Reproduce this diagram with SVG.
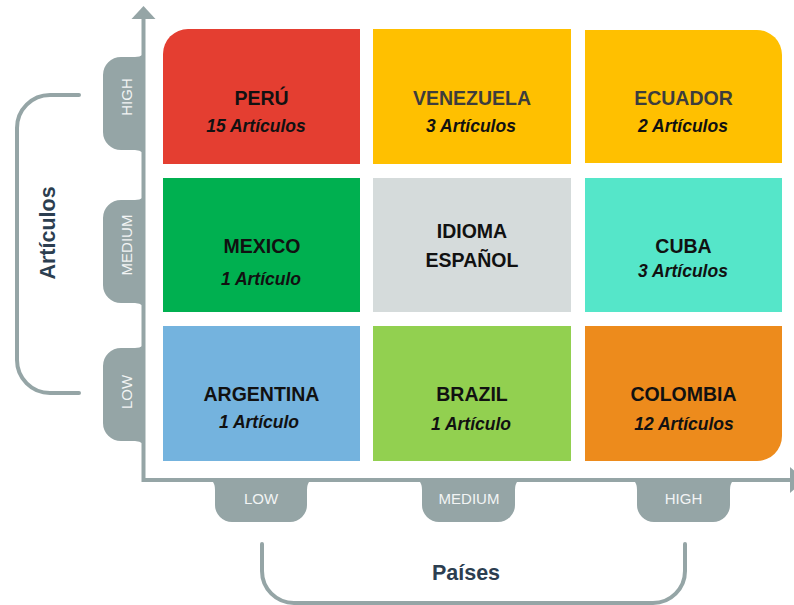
<svg xmlns="http://www.w3.org/2000/svg" width="794" height="605" viewBox="0 0 794 605">
<style>
.t{font-family:"Liberation Sans",Arial,sans-serif;font-weight:bold;font-size:19.5px;text-anchor:middle;fill:#111}
.g{fill:#3d3d3d}
.s{font-family:"Liberation Sans",Arial,sans-serif;font-weight:bold;font-style:italic;font-size:17.5px;text-anchor:middle;fill:#111}
.ax{fill:#95A5A6}
.al{font-family:"Liberation Sans",Arial,sans-serif;font-size:15px;text-anchor:middle;fill:#F2F4F4}
.br{fill:none;stroke:#95A5A6;stroke-width:4;stroke-linecap:round}
.bt{font-family:"Liberation Sans",Arial,sans-serif;font-weight:bold;font-size:21.5px;text-anchor:middle;fill:#2C3E50}
</style>
<rect width="794" height="605" fill="#fff"/>
<g id="axes">
<path d="M143.5 14 L143.5 480 L792 480" fill="none" stroke="#95A5A6" stroke-width="4"/>
<polygon class="ax" points="131.5,19 143.5,6 155.5,19"/>
<polygon class="ax" points="790,467 805,480 790,493"/>
<path class="ax" d="M145 47 Q145 57 135 57 L121 57 A18 18 0 0 0 103 75 L103 132 A18 18 0 0 0 121 150 L135 150 Q145 150 145 160 Z"/>
<path class="ax" d="M145 190 Q145 200 135 200 L121 200 A18 18 0 0 0 103 218 L103 285 A18 18 0 0 0 121 303 L135 303 Q145 303 145 313 Z"/>
<path class="ax" d="M145 338 Q145 348 135 348 L121 348 A18 18 0 0 0 103 366 L103 423 A18 18 0 0 0 121 441 L135 441 Q145 441 145 451 Z"/>
<path class="ax" d="M204 478 Q215 478 215 490 L215 505 A17 17 0 0 0 232 522 L290 522 A17 17 0 0 0 307 505 L307 490 Q307 478 318 478 Z"/>
<path class="ax" d="M411 478 Q422 478 422 490 L422 505 A17 17 0 0 0 439 522 L498 522 A17 17 0 0 0 515 505 L515 490 Q515 478 526 478 Z"/>
<path class="ax" d="M626 478 Q637 478 637 490 L637 505 A17 17 0 0 0 654 522 L713 522 A17 17 0 0 0 730 505 L730 490 Q730 478 741 478 Z"/>
<text class="al" transform="translate(132,97) rotate(-90)">HIGH</text>
<text class="al" transform="translate(132,245) rotate(-90)">MEDIUM</text>
<text class="al" transform="translate(132,392) rotate(-90)">LOW</text>
<text class="al" x="261" y="504">LOW</text>
<text class="al" x="469" y="504">MEDIUM</text>
<text class="al" x="683.5" y="504">HIGH</text>
</g>
<g id="bracket-articulos">
<path class="br" d="M79 95 L50 95 A33 33 0 0 0 17 128 L17 360 A33 33 0 0 0 50 393 L79 393"/>
<text class="bt" transform="translate(55,233) rotate(-90)">Artículos</text>
</g>
<g id="bracket-paises">
<path class="br" d="M262 544 L262 571 A32 32 0 0 0 294 603 L653 603 A32 32 0 0 0 685 571 L685 544"/>
<text class="bt" x="466" y="580">Países</text>
</g>
<g id="peru">
<path d="M188 29 L360 29 L360 164 L163 164 L163 54 A25 25 0 0 1 188 29 Z" fill="#E43E31"/>
<text class="t" x="261.5" y="105">PERÚ</text>
<text class="s" x="256" y="132">15 Artículos</text>
</g>
<g id="venezuela">
<rect x="373" y="29" width="198" height="135" fill="#FFC000"/>
<text class="t g" x="472" y="105">VENEZUELA</text>
<text class="s" x="471" y="132">3 Artículos</text>
</g>
<g id="ecuador">
<path d="M585 30 L757 30 A25 25 0 0 1 782 55 L782 163 L585 163 Z" fill="#FFC000"/>
<text class="t g" x="683.5" y="105">ECUADOR</text>
<text class="s" x="683" y="132">2 Artículos</text>
</g>
<g id="mexico">
<rect x="163" y="178" width="197" height="134" fill="#00B050"/>
<text class="t" x="262" y="253">MEXICO</text>
<text class="s" x="261" y="285">1 Artículo</text>
</g>
<g id="idioma">
<rect x="373" y="178" width="198" height="134" fill="#D5DBDB"/>
<text class="t" x="472" y="238">IDIOMA</text>
<text class="t" x="472" y="267">ESPAÑOL</text>
</g>
<g id="cuba">
<rect x="585" y="178" width="197" height="134" fill="#55E6C9"/>
<text class="t" x="683.5" y="253">CUBA</text>
<text class="s" x="683" y="277">3 Artículos</text>
</g>
<g id="argentina">
<rect x="163" y="326" width="197" height="135" fill="#74B3DE"/>
<text class="t" x="261.5" y="401">ARGENTINA</text>
<text class="s" x="259" y="428">1 Artículo</text>
</g>
<g id="brazil">
<rect x="373" y="326" width="198" height="135" fill="#92D050"/>
<text class="t" x="472" y="401">BRAZIL</text>
<text class="s" x="471" y="430">1 Artículo</text>
</g>
<g id="colombia">
<path d="M585 326 L782 326 L782 436 A25 25 0 0 1 757 461 L585 461 Z" fill="#ED8B1C"/>
<text class="t" x="683.5" y="401">COLOMBIA</text>
<text class="s" x="684" y="430">12 Artículos</text>
</g>
</svg>
